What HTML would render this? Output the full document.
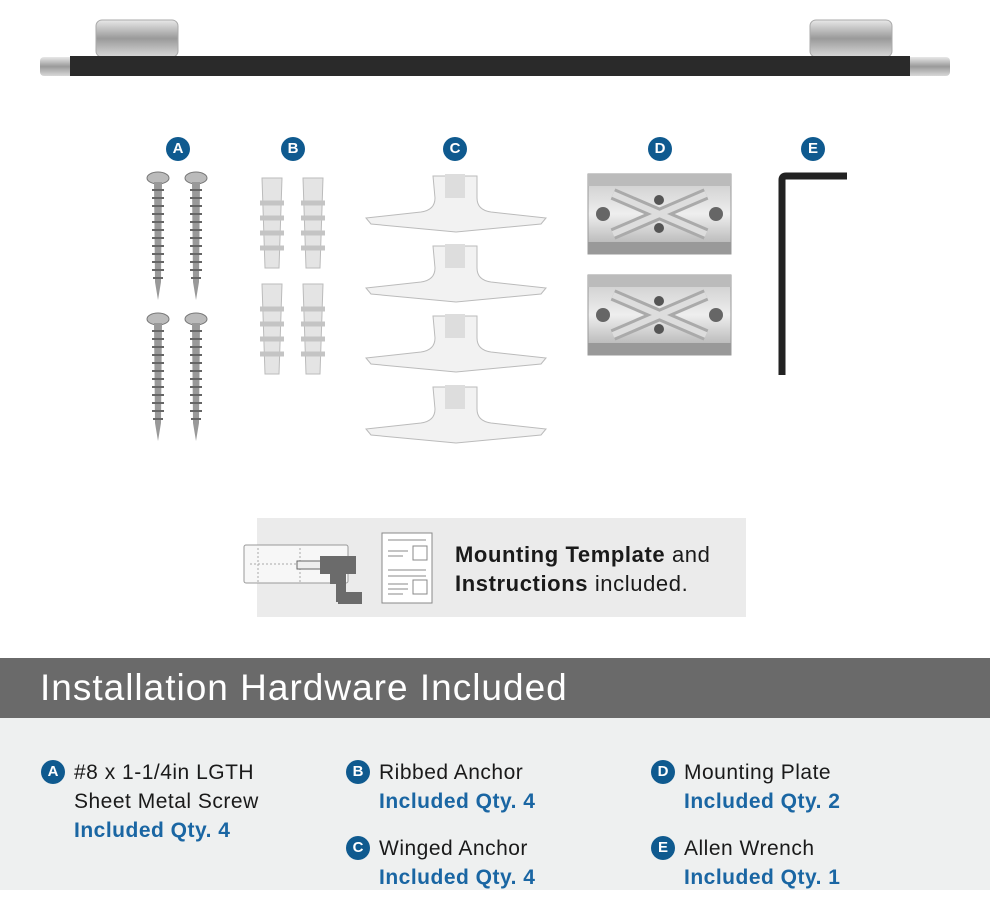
<!DOCTYPE html>
<html><head><meta charset="utf-8"><style>
body{margin:0;width:990px;height:910px;background:#fff;position:relative;overflow:hidden;font-family:"Liberation Sans",sans-serif}
.t{position:absolute;font-size:21px;color:#1a1a1a;line-height:29px;letter-spacing:.5px}
.b{color:#1a66a3;font-weight:bold}
.bd{position:absolute;width:24px;height:24px;border-radius:50%;background:#0f5a8f;color:#fff;font-weight:bold;font-size:15px;text-align:center;line-height:24px}
</style></head><body>
<svg width="990" height="910" style="position:absolute;left:0;top:0">
<defs>
<linearGradient id="ch" x1="0" y1="0" x2="0" y2="1"><stop offset="0" stop-color="#e8e8e8"/><stop offset=".5" stop-color="#9a9a9a"/><stop offset="1" stop-color="#d8d8d8"/></linearGradient>
<linearGradient id="pl" x1="0" y1="0" x2="0" y2="1"><stop offset="0" stop-color="#c8c8c8"/><stop offset=".5" stop-color="#eeeeee"/><stop offset="1" stop-color="#a8a8a8"/></linearGradient>
<g id="screw"><ellipse cx="0" cy="6" rx="11" ry="6" fill="#bbb" stroke="#777"/><path d="M-4,10 L4,10 L3,110 L0,128 L-3,110Z" fill="#999"/><path d="M-6,18h12M-6,26h12M-6,34h12M-6,42h12M-6,50h12M-6,58h12M-6,66h12M-6,74h12M-6,82h12M-6,90h12M-6,98h12M-5,106h10" stroke="#666" stroke-width="2"/></g>
<g id="anc"><path d="M-10,0 h20 l-3,90 h-14z" fill="#e4e4e4" stroke="#bbb"/><path d="M-12,25h24M-12,40h24M-12,55h24M-12,70h24" stroke="#c4c4c4" stroke-width="5"/></g>
<g id="wing"><path d="M-22,0 h44 v22 q0,12 14,14 l55,6 l-5,6 l-85,8 l-85,-8 l-5,-6 l55,-6 q14,-2 14,-14z" fill="#f2f2f2" stroke="#bbb"/><rect x="-10" y="-2" width="20" height="24" fill="#ddd"/></g>
<g id="plate"><rect x="0" y="0" width="143" height="80" fill="url(#pl)" stroke="#999"/><rect x="0" y="0" width="143" height="12" fill="#bbb"/><rect x="0" y="68" width="143" height="12" fill="#999"/><path d="M25,20 L118,60 M25,60 L118,20" stroke="#aaa" stroke-width="12"/><path d="M25,20 L118,60 M25,60 L118,20" stroke="#ddd" stroke-width="6"/><rect x="8" y="33" width="14" height="14" rx="7" fill="#666"/><rect x="121" y="33" width="14" height="14" rx="7" fill="#666"/><circle cx="71" cy="26" r="5" fill="#555"/><circle cx="71" cy="54" r="5" fill="#555"/></g>
</defs>
<rect x="96" y="20" width="82" height="37" rx="6" fill="url(#ch)" stroke="#aaa"/>
<rect x="810" y="20" width="82" height="37" rx="6" fill="url(#ch)" stroke="#aaa"/>
<rect x="40" y="57" width="910" height="19" rx="4" fill="url(#ch)"/>
<rect x="70" y="56" width="840" height="20" fill="#2a2a2a"/>
<use href="#screw" x="158" y="172"/><use href="#screw" x="196" y="172"/>
<use href="#screw" x="158" y="313"/><use href="#screw" x="196" y="313"/>
<use href="#anc" x="272" y="178"/><use href="#anc" x="313" y="178"/>
<use href="#anc" x="272" y="284"/><use href="#anc" x="313" y="284"/>
<use href="#wing" x="455" y="176"/><use href="#wing" x="455" y="246"/><use href="#wing" x="455" y="316"/><use href="#wing" x="455" y="387"/>
<use href="#plate" x="588" y="174"/><use href="#plate" x="588" y="275"/>
<path d="M782,375 V180 q0,-4 4,-4 H847" stroke="#222" stroke-width="7" fill="none"/>
<rect x="257" y="518" width="489" height="99" fill="#ebebeb"/>
<rect x="244" y="545" width="104" height="38" rx="2" fill="#f7f7f7" stroke="#999"/>
<path d="M250,564h50M258,548v34M300,548v34" stroke="#aaa" stroke-dasharray="2,2"/>
<rect x="297" y="561" width="24" height="8" fill="#eee" stroke="#666"/>
<path d="M320,556h36v18h-10v28h-10v-18h-6v-10h-10z" fill="#6b6b6b"/>
<rect x="338" y="592" width="24" height="12" fill="#6b6b6b"/>
<rect x="382" y="533" width="50" height="70" fill="#fff" stroke="#888"/>
<path d="M388,540h38M388,551h20M388,556h15M388,570h38M388,576h38M388,584h20M388,589h20M388,594h15" stroke="#888"/>
<rect x="413" y="546" width="14" height="14" fill="none" stroke="#888"/><rect x="413" y="580" width="14" height="14" fill="none" stroke="#888"/>
<rect x="0" y="658" width="990" height="60" fill="#6a6a6a"/>
<rect x="0" y="718" width="990" height="172" fill="#eef0f0"/>
</svg>
<div class="bd" style="left:166px;top:137px">A</div>
<div class="bd" style="left:281px;top:137px">B</div>
<div class="bd" style="left:443px;top:137px">C</div>
<div class="bd" style="left:648px;top:137px">D</div>
<div class="bd" style="left:801px;top:137px">E</div>
<div class="t" style="left:455px;top:540px;width:300px;font-size:22px;letter-spacing:.6px">
<b>Mounting Template</b> and<br><b>Instructions</b> included.</div>
<div style="position:absolute;left:40px;top:667px;color:#fff;font-size:37px;letter-spacing:1px">Installation Hardware Included</div>
<div class="bd" style="left:41px;top:760px">A</div>
<div class="t" style="left:74px;top:758px">#8 x 1-1/4in LGTH<br>Sheet Metal Screw<br><span class="b">Included Qty. 4</span></div>
<div class="bd" style="left:346px;top:760px">B</div>
<div class="t" style="left:379px;top:758px">Ribbed Anchor<br><span class="b">Included Qty. 4</span></div>
<div class="bd" style="left:346px;top:836px">C</div>
<div class="t" style="left:379px;top:834px">Winged Anchor<br><span class="b">Included Qty. 4</span></div>
<div class="bd" style="left:651px;top:760px">D</div>
<div class="t" style="left:684px;top:758px">Mounting Plate<br><span class="b">Included Qty. 2</span></div>
<div class="bd" style="left:651px;top:836px">E</div>
<div class="t" style="left:684px;top:834px">Allen Wrench<br><span class="b">Included Qty. 1</span></div>
</body></html>
